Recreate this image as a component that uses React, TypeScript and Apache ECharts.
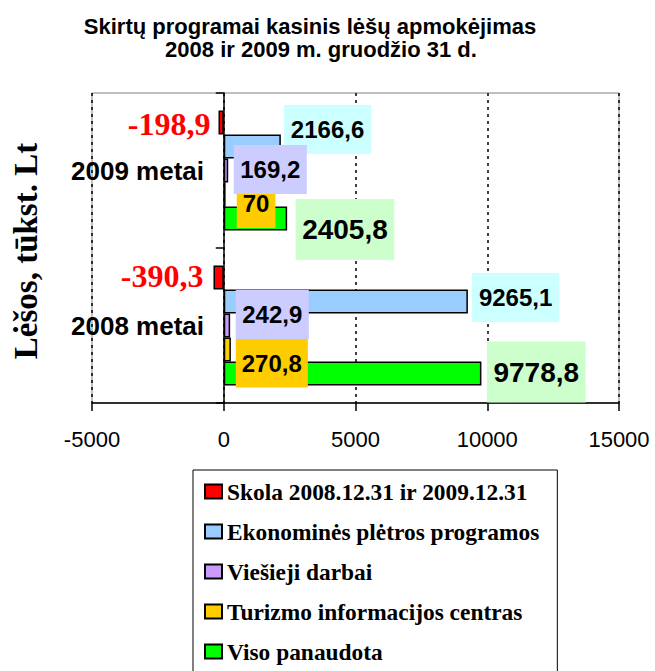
import React, { useEffect, useRef } from "react";
import * as echarts from "echarts";

// ---------- data ----------
const categories = ["2009 metai", "2008 metai"];
const seriesNames = [
  "Skola 2008.12.31 ir 2009.12.31",
  "Ekonominės plėtros programos",
  "Viešieji darbai",
  "Turizmo informacijos centras",
  "Viso panaudota",
];
const skola = [-198.9, -390.3];
const ekonomines = [2166.6, 9265.1];
const viesieji = [169.2, 242.9];
const turizmo = [70, 270.8];
const viso = [2405.8, 9778.8];

const xMin = -5000;
const xMax = 15000;
const xInterval = 5000;

const titleLines = [
  "Skirtų programai kasinis lėšų apmokėjimas",
  "2008 ir 2009 m. gruodžio 31 d.",
];
const yAxisName = "Lėšos, tūkst. Lt";

// ---------- styles ----------
const SANS = '"Liberation Sans", Arial, sans-serif';
const SERIF = '"Liberation Serif", "Times New Roman", serif';

const colors = ["#ff0000", "#99ccff", "#cc99ff", "#ffcc00", "#00ff00"];

type Place = { position: string; distance: number; dy: number };

const labelStyles: any[] = [
  { color: "#ff0000", fontFamily: SERIF, fontWeight: "bold", fontSize: 32 },
  { color: "#000", fontFamily: SANS, fontWeight: "bold", fontSize: 24, lineHeight: 24, backgroundColor: "#ccffff", padding: [10, 7, 15, 7] },
  { color: "#000", fontFamily: SANS, fontWeight: "bold", fontSize: 24, lineHeight: 24, backgroundColor: "#ccccff", padding: [10, 6.5, 15, 6.5] },
  { color: "#000", fontFamily: SANS, fontWeight: "bold", fontSize: 24, lineHeight: 24, backgroundColor: "#ffcc00", padding: [10, 6, 15, 6] },
  { color: "#000", fontFamily: SANS, fontWeight: "bold", fontSize: 28, lineHeight: 28, backgroundColor: "#ccffcc", padding: [13, 6.5, 20, 6.5] },
];

const placements: Place[][] = [
  [{ position: "left", distance: 8, dy: 1 }, { position: "left", distance: 10, dy: -2 }],
  [{ position: "right", distance: 3, dy: -17 }, { position: "right", distance: 4, dy: -4 }],
  [{ position: "insideLeft", distance: 10, dy: -1 }, { position: "insideLeft", distance: 12, dy: -11 }],
  [{ position: "insideLeft", distance: 13, dy: 9 }, { position: "insideLeft", distance: 12, dy: 13.5 }],
  [{ position: "right", distance: 8.5, dy: 11 }, { position: "right", distance: 5.5, dy: -1.5 }],
];

const seriesZ = [2, 2, 3, 2, 2];

const fmt = (v: number) => String(v).replace(".", ",");

export default function App() {
  const ref = useRef<HTMLDivElement>(null);

  useEffect(() => {
    if (!ref.current) return;
    const chart = echarts.init(ref.current, null, { renderer: "svg" });
    const valueSets = [skola, ekonomines, viesieji, turizmo, viso];

    const series = valueSets.map((vals, si) => ({
      type: "bar",
      name: seriesNames[si],
      z: seriesZ[si],
      barWidth: 24,
      barGap: "0%",
      itemStyle: { color: colors[si], borderColor: "#000", borderWidth: 1.5 },
      emphasis: { disabled: true },
      label: {
        show: true,
        formatter: (p: any) => fmt(p.value),
        textBorderWidth: 0,
        ...labelStyles[si],
      },
      data: vals.map((v, ci) => ({
        value: v,
        label: {
          position: placements[si][ci].position,
          distance: placements[si][ci].distance,
          offset: [0, placements[si][ci].dy],
        },
      })),
    }));

    chart.setOption({
      animation: false,
      backgroundColor: "#fff",
      graphic: [
        {
          type: "text",
          x: 310,
          y: 26,
          style: { text: titleLines[0], font: `bold 22px ${SANS}`, fill: "#000", textAlign: "center", textVerticalAlign: "middle" },
        },
        {
          type: "text",
          x: 321,
          y: 49,
          style: { text: titleLines[1], font: `bold 22px ${SANS}`, fill: "#000", textAlign: "center", textVerticalAlign: "middle" },
        },
        {
          type: "text",
          x: 26,
          y: 251,
          rotation: Math.PI / 2,
          style: { text: yAxisName, font: `bold 33px ${SERIF}`, fill: "#000", textAlign: "center", textVerticalAlign: "middle" },
        },
      ],
      grid: {
        left: 92,
        right: 36,
        top: 93,
        bottom: 268,
        show: true,
        borderColor: "#808080",
        borderWidth: 1,
        outerBoundsMode: "none",
      },
      legend: {
        orient: "vertical",
        left: 193,
        top: 470,
        height: 320,
        padding: [10, 18, 10, 11],
        itemGap: 17,
        itemWidth: 17,
        itemHeight: 14,
        icon: "rect",
        borderColor: "#000",
        borderWidth: 1,
        selectedMode: false,
        data: seriesNames,
        textStyle: { fontFamily: SERIF, fontWeight: "bold", fontSize: 23.4, color: "#000" },
      },
      xAxis: {
        type: "value",
        min: xMin,
        max: xMax,
        interval: xInterval,
        axisLine: { show: true, onZero: false, lineStyle: { color: "#000", width: 1.5 } },
        axisTick: { show: true, length: 8, lineStyle: { color: "#000", width: 1.5 } },
        axisLabel: { fontFamily: SANS, fontSize: 22, color: "#000", margin: 25, formatter: (v: number) => String(v) },
        splitLine: { show: true, lineStyle: { color: "#000", type: [3, 4], width: 1.5 } },
      },
      yAxis: {
        type: "category",
        data: categories,
        inverse: true,
        axisLine: { show: true, onZero: true, lineStyle: { color: "#000", width: 1.5 } },
        axisTick: { show: true, length: 8, lineStyle: { color: "#000", width: 1.5 } },
        axisLabel: { fontFamily: SANS, fontWeight: "bold", fontSize: 26, color: "#000", margin: -112 },
        splitLine: { show: false },
      },
      series,
    });

    return () => chart.dispose();
  }, []);

  return (
    <div
      ref={ref}
      style={{ position: "absolute", left: 0, top: 0, width: 655, height: 671, background: "#fff" }}
    />
  );
}
